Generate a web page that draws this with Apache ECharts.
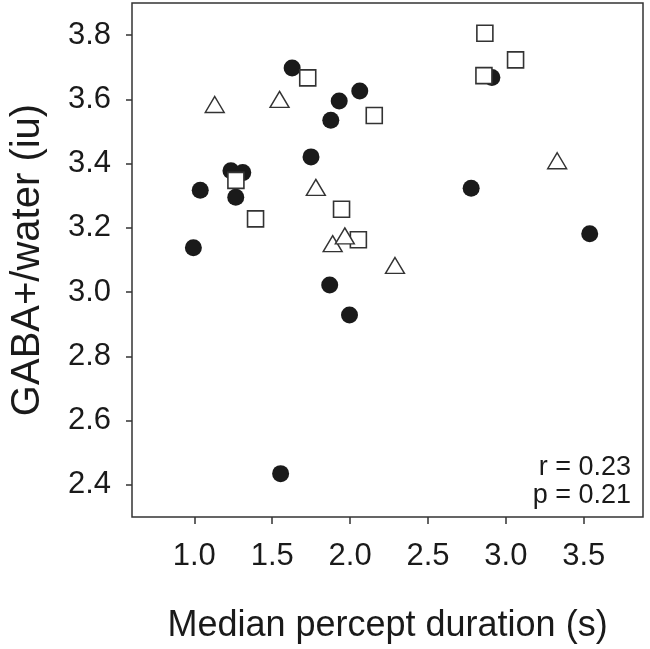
<!DOCTYPE html>
<html>
<head>
<meta charset="utf-8">
<script src="https://cdn.jsdelivr.net/npm/echarts@6/dist/echarts.min.js"></script>
<style>
html,body{margin:0;padding:0;background:#fff;}
#chart{width:650px;height:649px;}
</style>
</head>
<body>
<div id="chart"></div>
<script>
// Filled circles
const circlePoints = [
  [0.994, 3.138], [1.038, 3.317], [1.235, 3.378], [1.311, 3.372],
  [1.266, 3.295], [1.554, 2.435], [1.628, 3.698], [1.749, 3.421],
  [1.869, 3.022], [1.876, 3.535], [1.930, 3.595], [1.996, 2.929],
  [2.062, 3.626], [2.777, 3.323], [2.910, 3.668], [3.538, 3.182]
];
// Open squares
const squarePoints = [
  [1.267, 3.348], [1.393, 3.228], [1.728, 3.667], [1.945, 3.258],
  [2.053, 3.163], [2.155, 3.550], [2.865, 3.806], [2.859, 3.674],
  [3.062, 3.723]
];
// Open triangles
const trianglePoints = [
  [1.131, 3.584], [1.547, 3.600], [1.780, 3.326], [1.888, 3.151],
  [1.966, 3.175], [2.288, 3.083], [3.329, 3.409]
];
const xTicks = [1.0, 1.5, 2.0, 2.5, 3.0, 3.5];
const yTicks = [2.4, 2.6, 2.8, 3.0, 3.2, 3.4, 3.6, 3.8];
const statLines = ['r = 0.23', 'p = 0.21'];

const FONT = '"Liberation Sans", Arial, Helvetica, sans-serif';
const INK = '#1a1a1a';
const chart = echarts.init(document.getElementById('chart'), null, {renderer: 'canvas'});
chart.setOption({
  animation: false,
  backgroundColor: '#fff',
  grid: {
    left: 126, right: 7, top: 3, bottom: 126,
    show: true, borderColor: '#333', borderWidth: 1.5, backgroundColor: 'transparent'
  },
  xAxis: {
    type: 'value', min: 0.6, max: 3.88,
    name: 'Median percept duration (s)',
    nameLocation: 'middle', nameGap: 91,
    nameTextStyle: {fontFamily: FONT, fontSize: 36, color: INK},
    axisLine: {show: false},
    splitLine: {show: false},
    axisTick: {show: true, inside: false, length: 7, customValues: xTicks, lineStyle: {color: '#333', width: 1.5}},
    axisLabel: {
      customValues: xTicks, margin: 24,
      fontFamily: FONT, fontSize: 31, color: INK,
      formatter: v => Number(v).toFixed(1)
    }
  },
  yAxis: {
    type: 'value', min: 2.30, max: 3.90,
    name: 'GABA+/water (iu)',
    nameLocation: 'middle', nameGap: 84,
    nameTextStyle: {fontFamily: FONT, fontSize: 40, color: INK},
    axisLine: {show: false},
    splitLine: {show: false},
    axisTick: {show: true, inside: false, length: 6, customValues: yTicks, lineStyle: {color: '#333', width: 1.5}},
    axisLabel: {
      customValues: yTicks, margin: 21,
      fontFamily: FONT, fontSize: 31, color: INK,
      formatter: v => Number(v).toFixed(1)
    }
  },
  graphic: statLines.map((t, i) => ({
    type: 'text', right: 19, top: 454 + i * 28,
    style: {text: t, fontFamily: FONT, fontSize: 27, fill: INK, textAlign: 'right'}
  })),
  series: [
    {
      type: 'scatter', data: circlePoints, symbol: 'circle', symbolSize: 17,
      itemStyle: {color: '#1a1a1a', opacity: 1}
    },
    {
      type: 'scatter', data: squarePoints, symbol: 'rect', symbolSize: 16,
      itemStyle: {color: '#fff', borderColor: '#333', borderWidth: 1.6, opacity: 1}
    },
    {
      type: 'scatter', data: trianglePoints, symbol: 'triangle', symbolSize: [19, 16],
      itemStyle: {color: '#fff', borderColor: '#333', borderWidth: 1.4, opacity: 1}
    }
  ]
});
</script>
</body>
</html>
